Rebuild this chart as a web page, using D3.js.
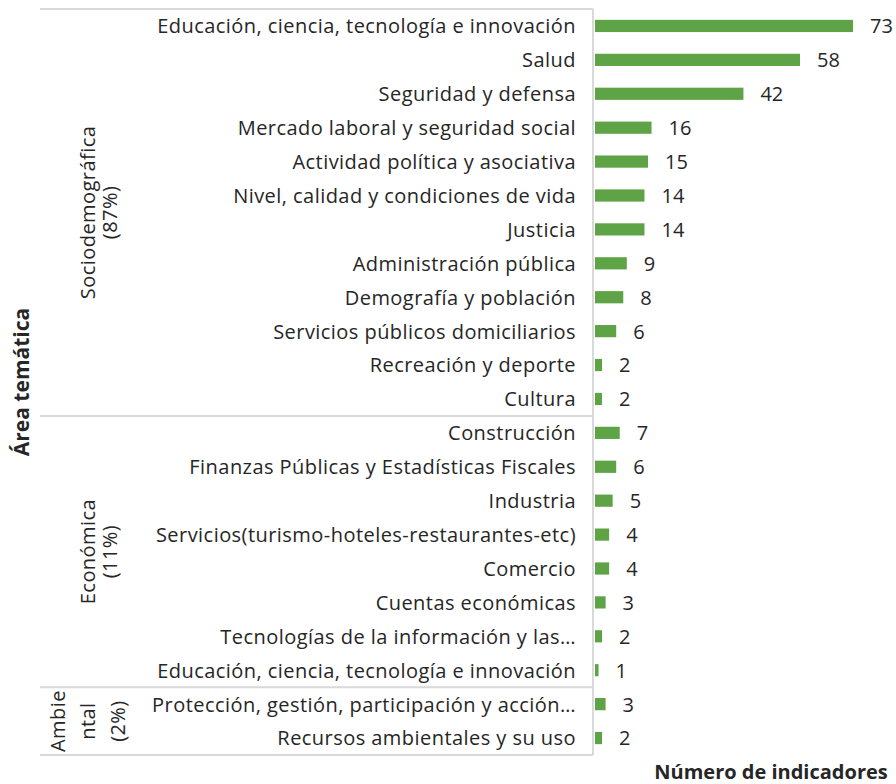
<!DOCTYPE html>
<html>
<head>
<meta charset="utf-8">
<script src="https://cdn.jsdelivr.net/npm/d3@7"></script>
<style>
  body { margin: 0; background: #fff; }
  text { font-family: "Open Sans", sans-serif; fill: #262626; }
</style>
</head>
<body>
<div id="chart"></div>
<script>
// categories, top to bottom
const categories = [
    'Educación, ciencia, tecnología e innovación',
    'Salud',
    'Seguridad y defensa',
    'Mercado laboral y seguridad social',
    'Actividad política y asociativa',
    'Nivel, calidad y condiciones de vida',
    'Justicia',
    'Administración pública',
    'Demografía y población',
    'Servicios públicos domiciliarios',
    'Recreación y deporte',
    'Cultura',
    'Construcción',
    'Finanzas Públicas y Estadísticas Fiscales',
    'Industria',
    'Servicios(turismo-hoteles-restaurantes-etc)',
    'Comercio',
    'Cuentas económicas',
    'Tecnologías de la información y las…',
    'Educación, ciencia, tecnología e innovación',
    'Protección, gestión, participación y acción…',
    'Recursos ambientales y su uso'
];
const values = [73, 58, 42, 16, 15, 14, 14, 9, 8, 6, 2, 2, 7, 6, 5, 4, 4, 3, 2, 1, 3, 2];
// groups: label lines and number of categories in each
const groupLabels = [['Sociodemográfica', '(87%)'], ['Económica', '(11%)'], ['Ambie', 'ntal', '(2%)']];
const groupSizes = [12, 8, 2];

const width = 896, height = 784;
const axisX = 593;
const svg = d3.select('#chart').append('svg')
    .attr('width', width)
    .attr('height', height);

const ids = categories.map((c, i) => i);
const y = d3.scaleBand()
    .domain(ids)
    .range([9, 755])
    .paddingInner(0.64)
    .paddingOuter(0.32);

const x = d3.scaleLinear()
    .domain([0, 73])
    .range([595, 853]);

// bars
svg.selectAll('rect.bar').data(values)
    .join('rect')
    .attr('class', 'bar')
    .attr('x', x(0))
    .attr('y', (d, i) => y(i))
    .attr('width', d => x(d) - x(0))
    .attr('height', y.bandwidth())
    .attr('fill', '#5ea446');

// value labels
svg.selectAll('text.val').data(values)
    .join('text')
    .attr('class', 'val')
    .attr('x', d => x(d) + 17)
    .attr('y', (d, i) => y(i) + y.bandwidth() / 2)
    .attr('dy', '0.37em')
    .style('font-size', '20px')
    .text(d => d);

// category labels
svg.selectAll('text.cat').data(categories)
    .join('text')
    .attr('class', 'cat')
    .attr('x', 576)
    .attr('y', (d, i) => y(i) + y.bandwidth() / 2)
    .attr('dy', '0.37em')
    .attr('text-anchor', 'end')
    .style('font-size', '20px')
    .style('letter-spacing', '0.45px')
    .text(d => d);

// group separators and labels
const step = y.step();
const y0 = 9;
let start = 0;
const bounds = [0];
groupSizes.forEach(s => { start += s; bounds.push(start); });

svg.selectAll('line.sep').data(bounds)
    .join('line')
    .attr('class', 'sep')
    .attr('x1', 40)
    .attr('x2', axisX)
    .attr('y1', d => y0 + d * step)
    .attr('y2', d => y0 + d * step)
    .attr('stroke', '#d9d9d9')
    .attr('stroke-width', 2);

svg.append('line')
    .attr('x1', axisX).attr('x2', axisX)
    .attr('y1', y0).attr('y2', y0 + categories.length * step)
    .attr('stroke', '#d9d9d9')
    .attr('stroke-width', 2);

const groupX = [[88, 110], [88, 110], [58, 88, 118]];
groupLabels.forEach((lines, g) => {
    const cy = y0 + (bounds[g] + bounds[g + 1]) / 2 * step;
    lines.forEach((t, k) => {
        const gx = groupX[g][k] + 7;
        svg.append('text')
            .attr('transform', `translate(${gx},${cy}) rotate(-90)`)
            .attr('text-anchor', 'middle')
            .style('font-size', '20px')
            .style('letter-spacing', '0.45px')
            .text(t);
    });
});

// axis titles
svg.append('text')
    .attr('transform', 'translate(29,382) rotate(-90)')
    .attr('text-anchor', 'middle')
    .style('font-size', '21px')
    .style('font-weight', 'bold')
    .text('Área temática');

svg.append('text')
    .attr('x', 771)
    .attr('y', 779)
    .attr('text-anchor', 'middle')
    .style('font-size', '20px')
    .style('font-weight', 'bold')
    .text('Número de indicadores');
</script>
</body>
</html>
